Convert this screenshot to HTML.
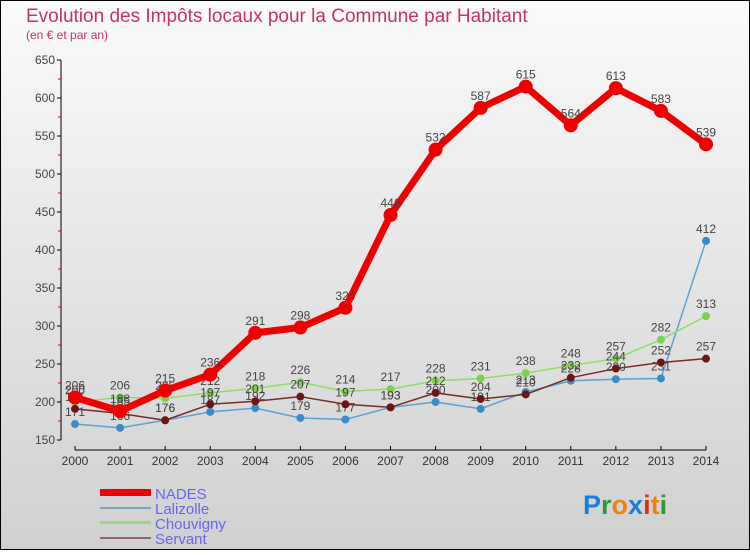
<!DOCTYPE html>
<html><head><meta charset="utf-8"><style>
body{margin:0;width:750px;height:550px;overflow:hidden;font-family:"Liberation Sans",sans-serif}
</style></head><body>
<svg id="chart" width="750" height="550" xmlns="http://www.w3.org/2000/svg" font-family="Liberation Sans, sans-serif">
<defs><linearGradient id="bg" x1="0" y1="0" x2="0" y2="1"><stop offset="0" stop-color="#fafafa"/><stop offset="1" stop-color="#d0d0d0"/></linearGradient></defs>
<rect x="0.5" y="0.5" width="749" height="549" fill="url(#bg)" stroke="#000"/>
<text x="26" y="22" font-size="19" fill="#c8326a">Evolution des Impôts locaux pour la Commune par Habitant</text>
<text x="26" y="39" font-size="12" fill="#c8326a">(en € et par an)</text>
<g id="axes"></g><g id="series"></g>
<g>
<rect x="100" y="489" width="51" height="7" fill="#ee0000"/><text x="155" y="499" font-size="15" fill="#6666ee">NADES</text>
<rect x="100" y="507" width="51" height="2" fill="#7aa6c6"/><text x="155" y="514" font-size="15" fill="#6666ee">Lalizolle</text>
<rect x="100" y="521" width="51" height="3" fill="#9fd38a"/><text x="155" y="529" font-size="15" fill="#6666ee">Chouvigny</text>
<rect x="100" y="537" width="51" height="2" fill="#926565"/><text x="155" y="544" font-size="15" fill="#6666ee">Servant</text>
</g>
<text x="583" y="514" font-size="27" font-weight="bold" fill="#1a7fd6">P<tspan fill="#2a9a3a">r</tspan><tspan fill="#f08010">o</tspan><tspan fill="#1a7fd6">x</tspan><tspan fill="#e03010">i</tspan><tspan fill="#f08010">t</tspan><tspan fill="#2a9a3a">i</tspan></text>
</svg>
<script>
const years=[2000,2001,2002,2003,2004,2005,2006,2007,2008,2009,2010,2011,2012,2013,2014];
const nades=[206,188,215,236,291,298,324,446,532,587,615,564,613,583,539];
const lalizolle=[171,166,176,187,192,179,177,193,200,191,213,228,230,231,412];
const chouvigny=[200,206,205,212,218,226,214,217,228,231,238,248,257,282,313];
const servant=[191,185,176,197,201,207,197,193,212,204,210,232,244,252,257];
const yTicks=[150,200,250,300,350,400,450,500,550,600,650];
const NS='http://www.w3.org/2000/svg';
const x=i=>75+i*(706-75)/(years.length-1);
const y=v=>440-(v-150)*(380/500);
function mk(tag,attrs,parent,txt){const e=document.createElementNS(NS,tag);for(const k in attrs)e.setAttribute(k,attrs[k]);if(txt!==undefined)e.textContent=txt;parent.appendChild(e);return e;}
const ax=document.getElementById('axes');
const yl=mk('line',{x1:61,y1:60,x2:61,y2:440,stroke:'#000'},ax);


yTicks.forEach(t=>{mk('line',{x1:57,y1:y(t),x2:61,y2:y(t),stroke:'#000'},ax);
 if(t<650)mk('line',{x1:58,y1:y(t+25),x2:61,y2:y(t+25),stroke:'#d00'},ax);
 const l=mk('text',{x:55,y:y(t)+4,'text-anchor':'end','font-size':12,fill:'#444'},ax,t);
 
 });
const xl=mk('line',{x1:75,y1:450,x2:706,y2:450,stroke:'#000'},ax);


years.forEach((yr,i)=>{mk('line',{x1:x(i),y1:446,x2:x(i),y2:450,stroke:'#000'},ax);
 const l=mk('text',{x:x(i),y:465,'text-anchor':'middle','font-size':12,fill:'#333'},ax,yr);
 
 });
const sg=document.getElementById('series');
function draw(name,data,color,w,r,dot){
 const g=mk('g',{},sg);
 
 
 mk('polyline',{points:data.map((v,i)=>x(i)+','+y(v)).join(' '),fill:'none',stroke:color,'stroke-width':w,'stroke-linejoin':'round'},g);
 data.forEach((v,i)=>{const c=mk('circle',{cx:x(i),cy:y(v),r:r,fill:dot},g);
  
  
  mk('text',{x:x(i),y:y(v)-8,'text-anchor':'middle','font-size':12,fill:'#444'},g,v);});
}
draw('lalizolle',lalizolle,'#5ea2d2',1.5,4,'#3a8cc8');
draw('chouvigny',chouvigny,'#8fdc64',1.5,4,'#7ed04a');
draw('servant',servant,'#7a2a2a',1.5,4,'#6a1616');
draw('nades',nades,'#ee0000',7,7,'#ee0000');
</script>
</body></html>
